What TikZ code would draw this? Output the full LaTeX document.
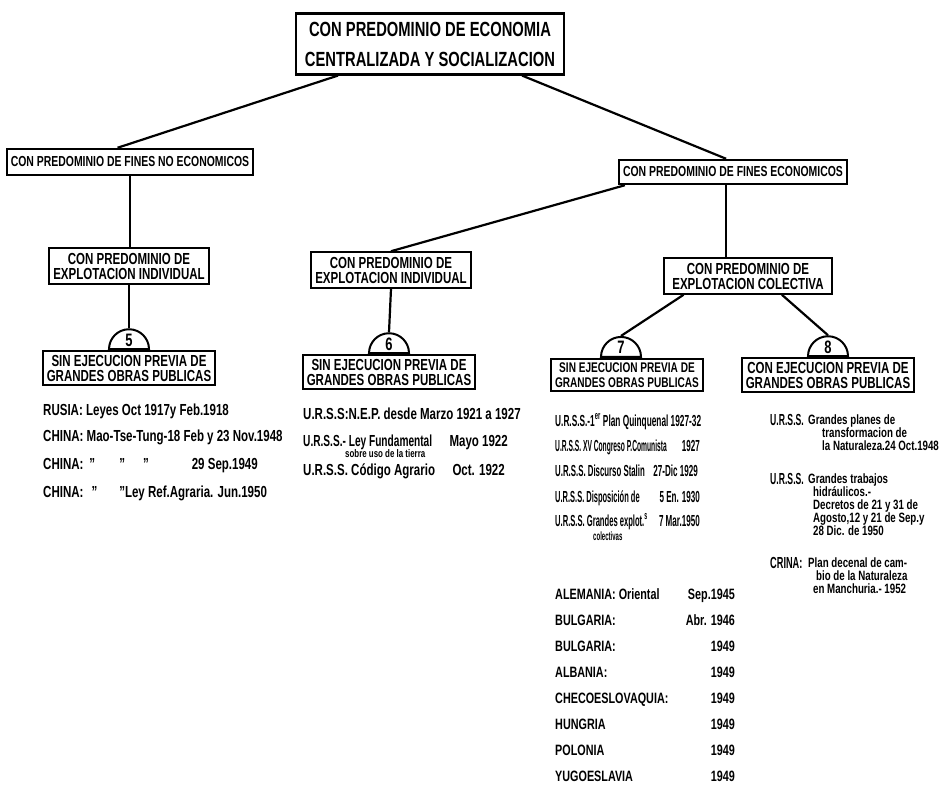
\documentclass[tikz,border=0pt]{standalone}
\usepackage{fontspec}
\usepackage{graphicx}
\setmainfont{Liberation Sans}[FakeStretch=0.72]
\usetikzlibrary{shapes.geometric,calc}

% texto comprimido a lo ancho
\newcommand{\angosto}[2][0.7]{\scalebox{#1}[1]{#2}}

\tikzset{
  caja/.style={draw, line width=2.2pt, inner xsep=4pt, inner ysep=3.5pt, align=center,
    font=\bfseries\fontsize{16}{15}\selectfont},
  num/.style={semicircle, draw, line width=2pt, inner sep=1pt, minimum width=40pt,
    anchor=chord center, font=\bfseries\fontsize{18}{18}\selectfont},
  rama/.style={line width=2.2pt},
  dato/.style={anchor=base west, inner sep=0pt, font=\bfseries\fontsize{16}{16}\selectfont},
  fecha/.style={anchor=base east, inner sep=0pt, font=\bfseries\fontsize{16}{16}\selectfont},
  nota/.style={anchor=north west, inner sep=0pt, align=left,
    font=\bfseries\fontsize{13.5}{12.8}\selectfont},
}

\begin{document}
\begin{tikzpicture}[x=1pt,y=-1pt]
	\useasboundingbox (0,0) rectangle (945,805);
	% cajas
	\node[caja, line width=2.6pt, inner xsep=9pt, inner ysep=8pt,
		font=\bfseries\fontsize{20.5}{30}\selectfont] (top) at (430,44)
		{CON PREDOMINIO DE ECONOMIA\\CENTRALIZADA Y SOCIALIZACION};
	\node[caja, inner ysep=8pt, font=\bfseries\fontsize{14.5}{14}\selectfont] (noeco) at (130,162) {CON PREDOMINIO DE FINES NO ECONOMICOS};
	\node[caja, inner ysep=7pt, font=\bfseries\fontsize{14.5}{14}\selectfont] (eco) at (733,172) {CON PREDOMINIO DE FINES ECONOMICOS};
	\node[caja, inner ysep=4.5pt] (indA) at (129,266) {CON PREDOMINIO DE\\EXPLOTACION INDIVIDUAL};
	\node[caja, inner ysep=4.5pt] (indB) at (391,270) {CON PREDOMINIO DE\\EXPLOTACION INDIVIDUAL};
	\node[caja, inner ysep=4.5pt, inner xsep=8pt] (colec) at (748,276) {CON PREDOMINIO DE\\EXPLOTACION COLECTIVA};
	\node[caja] (sinA) at (129,368) {SIN EJECUCION PREVIA DE\\GRANDES OBRAS PUBLICAS};
	\node[caja] (sinB) at (389,372) {SIN EJECUCION PREVIA DE\\GRANDES OBRAS PUBLICAS};
	\node[caja, font=\bfseries\fontsize{14}{15}\selectfont] (sinC) at (627,375) {SIN EJECUCION PREVIA DE\\GRANDES OBRAS PUBLICAS};
	\node[caja] (conD) at (828,375) {CON EJECUCION PREVIA DE\\GRANDES OBRAS PUBLICAS};
	% numeros
	\node[num] (n5) at (sinA.north) {5};
	\node[num] (n6) at (sinB.north) {6};
	\node[num] (n7) at ($(sinC.north)+(-6,0)$) {7};
	\node[num] (n8) at (conD.north) {8};
	% ramas
	\coordinate (ea) at ($(eco.south west)!0.47!(eco.south east)$);
	\draw[rama] ($(top.south west)!0.16!(top.south east)$) -- ($(noeco.north west)!0.45!(noeco.north east)$);
	\draw[rama] ($(top.south west)!0.84!(top.south east)$) -- ($(eco.north west)!0.47!(eco.north east)$);
	\draw[rama] (noeco.south) -- (noeco.south |- indA.north);
	\draw[rama] (indA.south) -- (n5.apex);
	\draw[rama] ($(eco.south west)!0.03!(eco.south east)$) -- (indB.north);
	\draw[rama] (ea) -- (ea |- colec.north);
	\draw[rama] (indB.south) -- (n6.apex);
	\draw[rama] ($(colec.south west)!0.12!(colec.south east)$) -- (n7.apex);
	\draw[rama] ($(colec.south west)!0.7!(colec.south east)$) -- (n8.apex);
	% 5
	\node[dato] (r1) at (43,415) {RUSIA: Leyes Oct 1917y Feb.1918};
	\node[dato] (r2) at (43,441) {CHINA: Mao-Tse-Tung-18 Feb y 23 Nov.1948};
	\node[dato] (r3) at (43,469) {CHINA:\hspace{6pt}''\hspace{24pt}''\hspace{18pt}''};
	\node[fecha] (f3) at (258,469) {29 Sep.1949};
	\node[dato] (r4) at (43,497) {CHINA:\hspace{8pt}''\hspace{22pt}''Ley Ref.Agraria. Jun.1950};
	% 6
	\begin{scope}[every node/.append style={font=\bfseries\fontsize{15.5}{15.5}\selectfont}]
		\node[dato] (s1) at (303,419) {U.R.S.S:N.E.P. desde Marzo 1921 a 1927};
		\node[dato] (s2) at (303,446) {\angosto[0.88]{U.R.S.S.- Ley Fundamental}};
		\node[fecha] (g2) at (508,446) {Mayo 1922};
		\node[dato] (s3) at (303,475) {U.R.S.S. Código Agrario};
		\node[fecha] (g3) at (505,475) {Oct. 1922};
	\end{scope}
	\node[dato, font=\bfseries\fontsize{11}{11}\selectfont] (s2b) at (345,457) {sobre uso de la tierra};
	% 7
	\node[dato] (t1) at (555,426) {\angosto[0.72]{U.R.S.S.-1\textsuperscript{er} Plan Quinquenal 1927-32}};
	\node[dato] (t2) at (555,451) {\angosto[0.58]{U.R.S.S. XV Congreso P.Comunista}};
	\node[fecha] (h2) at (700,451) {\angosto{1927}};
	\node[dato] (t3) at (555,476) {\angosto[0.68]{U.R.S.S. Discurso Stalin}};
	\node[fecha] (h3) at (698,476) {\angosto{27-Dic 1929}};
	\node[dato] (t4) at (555,502) {\angosto[0.65]{U.R.S.S. Disposición de}};
	\node[fecha] (h4) at (700,502) {\angosto{5 En. 1930}};
	\node[dato] (t5) at (555,526) {\angosto[0.66]{U.R.S.S. Grandes explot.\textsuperscript{s}}};
	\node[fecha] (h5) at (700,526) {\angosto{7 Mar.1950}};
	\node[dato, font=\bfseries\fontsize{12}{12}\selectfont] (t5b) at (593,540) {\angosto{colectivas}};
	\foreach \pais/\fecha [count=\i from 0] in {ALEMANIA: Oriental/Sep.1945, BULGARIA:/Abr. 1946,
		BULGARIA:/1949, ALBANIA:/1949, CHECOESLOVAQUIA:/1949, HUNGRIA/1949, POLONIA/1949, YUGOESLAVIA/1949}
	{
		\node[dato, font=\bfseries\fontsize{15}{15}\selectfont] (pais\i) at (555,599+26*\i) {\pais};
		\node[fecha, font=\bfseries\fontsize{15}{15}\selectfont] (fecha\i) at (735,599+26*\i) {\fecha};
	}
	% 8
	\begin{scope}[every node/.append style={font=\bfseries\fontsize{14}{14}\selectfont}]
		\node[dato] (u1) at (770,425) {\angosto[0.75]{U.R.S.S.}};
		\node[dato] (u2) at (770,484) {\angosto[0.75]{U.R.S.S.}};
		\node[dato] (u3) at (770,568) {\angosto[0.8]{CRINA:}};
	\end{scope}
	\node[nota] (v1) at (808,415) {Grandes planes de\\\hspace{14pt}transformacion de\\\hspace{14pt}la Naturaleza.24 Oct.1948};
	\node[nota] (v2) at (808,474) {Grandes trabajos\\\hspace{5pt}hidráulicos.-\\\hspace{5pt}Decretos de 21 y 31 de\\\hspace{5pt}Agosto,12 y 21 de Sep.y\\\hspace{5pt}28 Dic. de 1950};
	\node[nota] (v3) at (808,558) {Plan decenal de cam-\\\hspace{8pt}bio de la Naturaleza\\\hspace{5pt}en Manchuria.- 1952};
\end{tikzpicture}
\end{document}
